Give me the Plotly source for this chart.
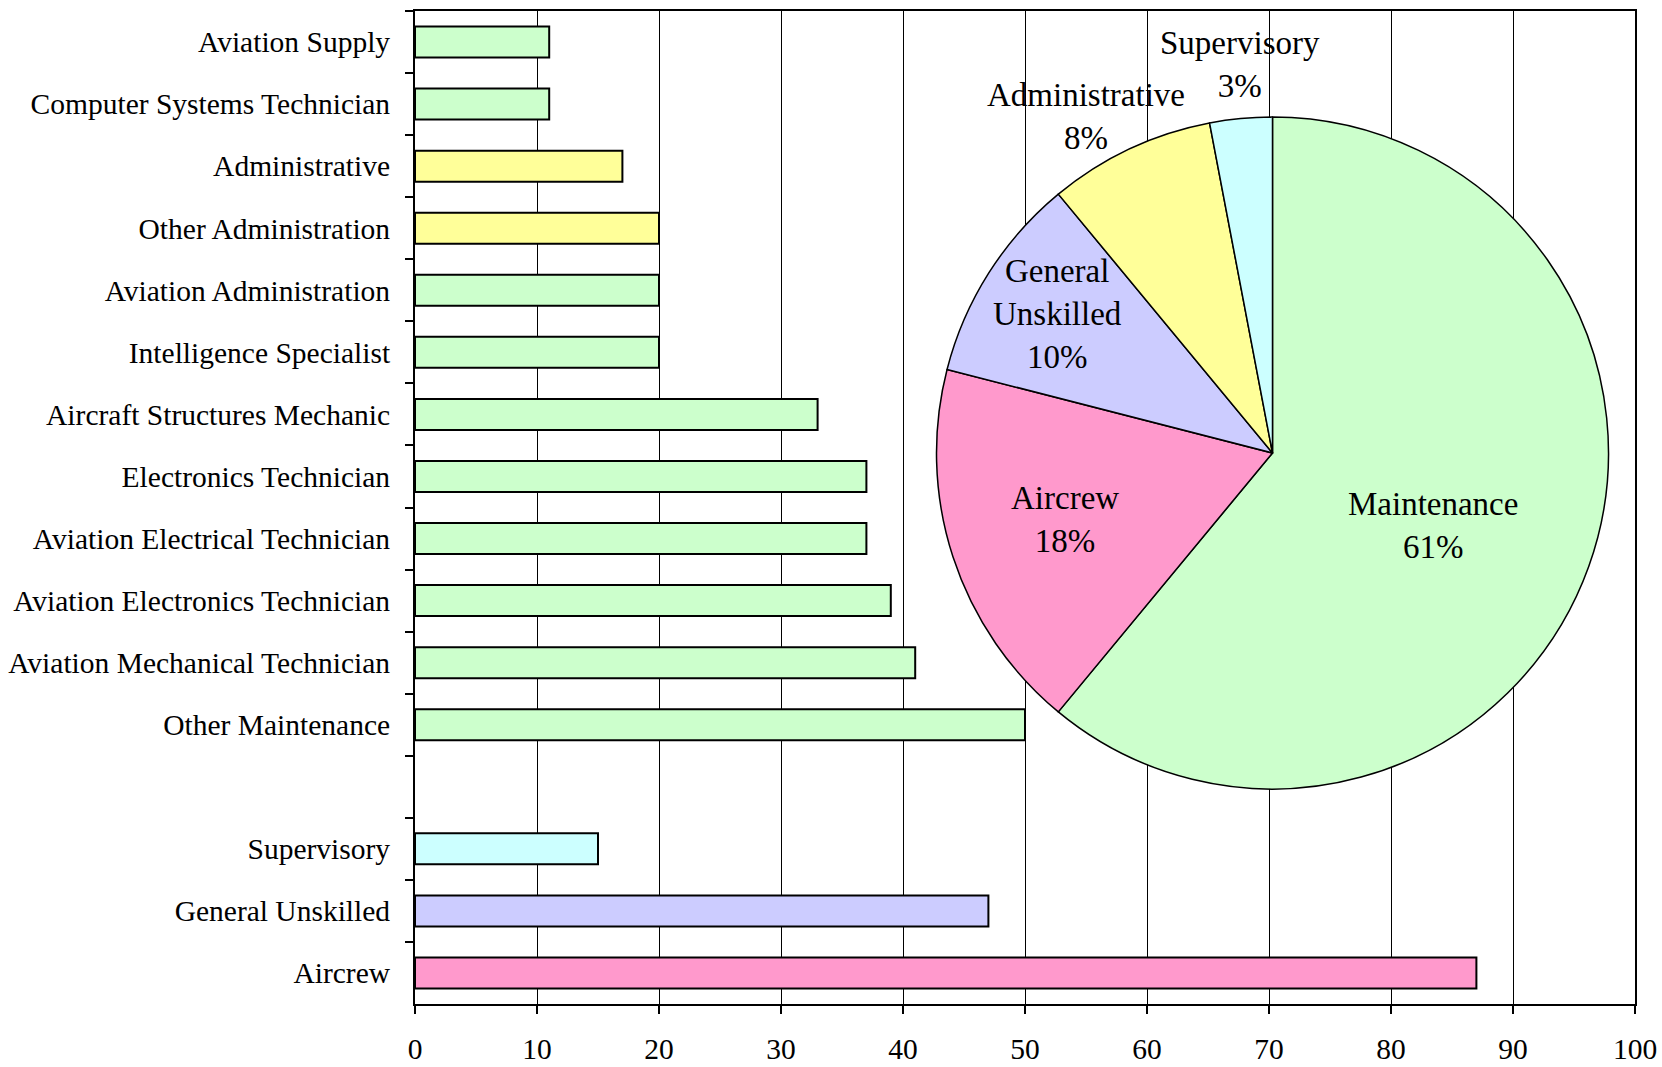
import plotly.graph_objects as go

# Occupational specialties, listed top to bottom (blank row separates the groups)
categories = [
    "Aviation Supply",
    "Computer Systems Technician",
    "Administrative",
    "Other Administration",
    "Aviation Administration",
    "Intelligence Specialist",
    "Aircraft Structures Mechanic",
    "Electronics Technician",
    "Aviation Electrical Technician",
    "Aviation Electronics Technician",
    "Aviation Mechanical Technician",
    "Other Maintenance",
    " ",
    "Supervisory",
    "General Unskilled",
    "Aircrew",
]
counts = [11, 11, 17, 20, 20, 20, 33, 37, 37, 39, 41, 50, None, 15, 47, 87]
groups = [
    "Maintenance", "Maintenance", "Administrative", "Administrative",
    "Maintenance", "Maintenance", "Maintenance", "Maintenance",
    "Maintenance", "Maintenance", "Maintenance", "Maintenance",
    None, "Supervisory", "General Unskilled", "Aircrew",
]

# Share of each occupational group (percent)
pie_groups = ["Maintenance", "Aircrew", "General Unskilled", "Administrative", "Supervisory"]
pie_text = ["Maintenance", "Aircrew", "General<br>Unskilled", "Administrative", "Supervisory"]
pie_shares = [61, 18, 10, 8, 3]

x_ticks = list(range(0, 101, 10))

group_colors = {
    "Maintenance": "#CCFFCC",
    "Administrative": "#FFFF99",
    "Supervisory": "#CCFFFF",
    "General Unskilled": "#CCCCFF",
    "Aircrew": "#FF99CC",
    None: "rgba(0,0,0,0)",
}

W, H = 1662, 1067
FONT = "Liberation Serif, Times New Roman, serif"

# Pie placement (pixels): centre and radius
PIE_CX, PIE_CY, PIE_R = 1272.5, 453, 336

# Slice label anchors, as pixel offsets from the pie centre
label_offsets = {
    "Maintenance": (160, 72),
    "Aircrew": (-208, 66),
    "General Unskilled": (-215, -139),
    "Administrative": (-187, -337),
    "Supervisory": (-33, -389),
}

fig = go.Figure()

fig.add_trace(go.Bar(
    x=counts,
    y=categories,
    orientation="h",
    width=0.5,
    marker=dict(
        color=[group_colors[g] for g in groups],
        line=dict(color="black", width=2),
    ),
    showlegend=False,
    hoverinfo="x+y",
))

fig.add_trace(go.Pie(
    labels=pie_groups,
    values=pie_shares,
    textinfo="none",
    sort=False,
    direction="clockwise",
    rotation=0,
    marker=dict(
        colors=[group_colors[g] for g in pie_groups],
        line=dict(color="black", width=1.5),
    ),
    domain=dict(
        x=[(PIE_CX - PIE_R) / W, (PIE_CX + PIE_R) / W],
        y=[1 - (PIE_CY + PIE_R) / H, 1 - (PIE_CY - PIE_R) / H],
    ),
    showlegend=False,
))

# Slice labels: name and percentage share
for name, text, share in zip(pie_groups, pie_text, pie_shares):
    dx, dy = label_offsets[name]
    fig.add_annotation(
        x=(PIE_CX + dx) / W,
        y=1 - (PIE_CY + dy) / H,
        xref="paper",
        yref="paper",
        xanchor="center",
        yanchor="middle",
        text=f"{text}<br>{share}%",
        showarrow=False,
        font=dict(family=FONT, size=33, color="black"),
    )

fig.update_layout(
    width=W,
    height=H,
    margin=dict(l=0, r=0, t=0, b=0),
    paper_bgcolor="white",
    plot_bgcolor="white",
    font=dict(family=FONT, size=29.5, color="black"),
    bargap=0.5,
    xaxis=dict(
        domain=[415 / W, 1635 / W],
        range=[0, 100],
        tickvals=x_ticks,
        ticks="outside",
        ticklen=8,
        tickwidth=1.5,
        tickcolor="black",
        ticklabelstandoff=10,
        showgrid=True,
        gridcolor="black",
        gridwidth=1.3,
        showline=True,
        linecolor="black",
        linewidth=2,
        mirror=True,
        zeroline=False,
        automargin=False,
        tickfont=dict(family=FONT, size=29.5, color="black"),
    ),
    yaxis=dict(
        domain=[1 - 1004 / H, 1 - 11 / H],
        type="category",
        categoryorder="array",
        categoryarray=categories,
        range=[len(categories) - 0.5, -0.5],
        tickson="boundaries",
        ticks="outside",
        ticklen=8,
        tickwidth=1.5,
        tickcolor="black",
        ticklabelstandoff=17,
        showgrid=False,
        showline=True,
        linecolor="black",
        linewidth=2,
        mirror=True,
        automargin=False,
        tickfont=dict(family=FONT, size=29.5, color="black"),
    ),
)

fig.write_html("out.html")
